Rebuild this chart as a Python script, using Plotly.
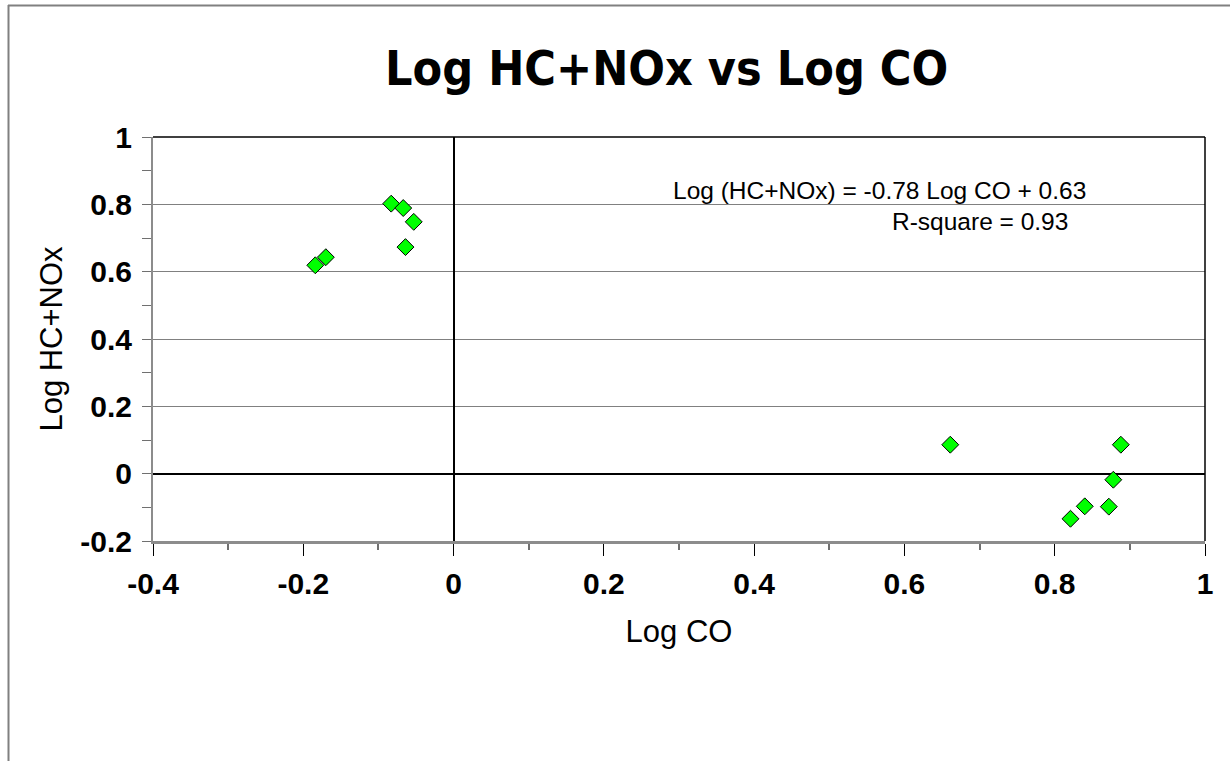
import plotly.graph_objects as go

log_co = [-0.083, -0.067, -0.053, -0.064, -0.170, -0.184,
          0.661, 0.888, 0.878, 0.840, 0.872, 0.821]
log_hc_nox = [0.802, 0.789, 0.748, 0.673, 0.643, 0.619,
              0.086, 0.086, -0.018, -0.097, -0.098, -0.134]

x_ticks = [-0.4, -0.2, 0, 0.2, 0.4, 0.6, 0.8, 1]
x_labels = ["-0.4", "-0.2", "0", "0.2", "0.4", "0.6", "0.8", "1"]
y_ticks = [-0.2, 0, 0.2, 0.4, 0.6, 0.8, 1]
y_labels = ["-0.2", "0", "0.2", "0.4", "0.6", "0.8", "1"]

title_text = "Log HC+NOx vs Log CO"
eq_text = "Log (HC+NOx) = -0.78 Log CO + 0.63"
r2_text = "R-square = 0.93"

W, H = 1232, 761
L, R, T, B = 153, 1205, 137, 541

fig = go.Figure()
fig.add_trace(go.Scatter(
    x=log_co, y=log_hc_nox, mode="markers",
    marker=dict(symbol="diamond", size=13, color="#00ff00",
                line=dict(color="black", width=1)),
    showlegend=False, hoverinfo="x+y"))

tick_font = dict(family="Liberation Sans, Arial", size=30, color="black", weight="bold")
axis_title_font = dict(family="Liberation Sans, Arial", size=31, color="black")

fig.update_xaxes(
    range=[-0.4, 1], tickvals=x_ticks, ticktext=x_labels,
    showgrid=False, zeroline=True, zerolinecolor="black", zerolinewidth=2,
    showline=True, linecolor="#8c8c8c", linewidth=3,
    ticks="outside", ticklen=12, tickcolor="black", tickwidth=1,
    ticklabelstandoff=2,
    minor=dict(tickvals=[-0.3, -0.1, 0.1, 0.3, 0.5, 0.7, 0.9],
               ticks="outside", ticklen=6, tickcolor="#707070", tickwidth=2,
               showgrid=False),
    tickfont=tick_font,
    title=dict(text="Log CO", font=axis_title_font, standoff=22),
)
fig.update_yaxes(
    range=[-0.2, 1], tickvals=y_ticks, ticktext=y_labels,
    showgrid=True, gridcolor="#808080", gridwidth=1,
    zeroline=True, zerolinecolor="black", zerolinewidth=2,
    showline=True, linecolor="#8c8c8c", linewidth=2,
    ticks="outside", ticklen=9, tickcolor="#707070", tickwidth=1,
    ticklabelstandoff=4,
    minor=dict(tickvals=[-0.1, 0.1, 0.3, 0.5, 0.7, 0.9],
               ticks="outside", ticklen=9, tickcolor="#707070", tickwidth=1,
               showgrid=False),
    tickfont=tick_font,
    title=dict(text="Log HC+NOx", font=axis_title_font, standoff=8),
)

def px_x(px):
    return (px - L) / (R - L)

def px_y(py):
    return (B - py) / (B - T)

shapes = [
    dict(type="line", xref="paper", yref="paper", x0=0, x1=1, y0=1, y1=1,
         line=dict(color="black", width=1.5)),
    dict(type="line", xref="paper", yref="paper", x0=1, x1=1, y0=0, y1=1,
         line=dict(color="black", width=1.5)),
    dict(type="line", xref="paper", yref="paper", x0=px_x(8), x1=px_x(1230),
         y0=px_y(5.5), y1=px_y(5.5), line=dict(color="#808080", width=2)),
    dict(type="line", xref="paper", yref="paper", x0=px_x(8.5), x1=px_x(8.5),
         y0=px_y(5), y1=px_y(761), line=dict(color="#808080", width=2)),
]

annotations = [
    dict(text="<b>" + title_text + "</b>", xref="paper", yref="paper",
         x=px_x(666), y=px_y(68), showarrow=False, xanchor="center", yanchor="middle",
         font=dict(family="DejaVu Sans Condensed, DejaVu Sans", size=48, color="black")),
    dict(text=eq_text, xref="x", yref="y", x=0.567, y=0.840, showarrow=False,
         xanchor="center", yanchor="middle",
         font=dict(family="Liberation Sans, Arial", size=24.5, color="black")),
    dict(text=r2_text, xref="x", yref="y", x=0.700, y=0.748, showarrow=False,
         xanchor="center", yanchor="middle",
         font=dict(family="Liberation Sans, Arial", size=24.5, color="black")),
]

fig.update_layout(
    width=W, height=H,
    margin=dict(l=L, r=W - R, t=T, b=H - B, pad=0),
    paper_bgcolor="white", plot_bgcolor="white",
    shapes=shapes, annotations=annotations,
)

fig.write_html("out.html", config={"displayModeBar": False})
